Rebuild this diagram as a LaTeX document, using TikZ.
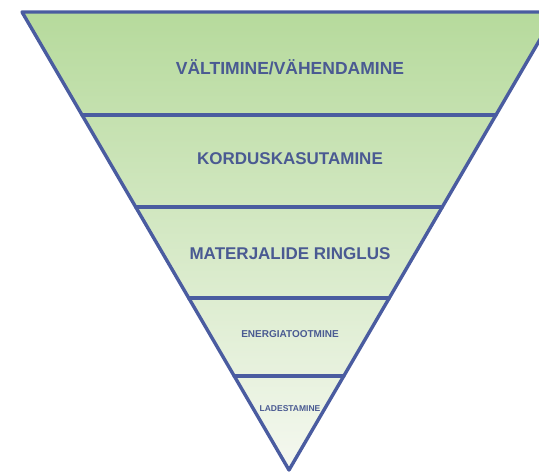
\documentclass[tikz,border=0pt]{standalone}
\usepackage{fontspec}
\setmainfont{Liberation Sans}
\definecolor{edge}{HTML}{4A5CA0}
\definecolor{txt}{HTML}{4A5A92}
\definecolor{gtop}{HTML}{B6DA9C}
\definecolor{gbot}{HTML}{F5F8F0}
\begin{document}
\begin{tikzpicture}[x=1pt,y=-1pt,
  band/.style={draw=edge,line width=3.4pt,line cap=round,line join=round},
  lbl/.style={text=txt,font=\bfseries,inner sep=0pt,anchor=center}]
\useasboundingbox (0,0) rectangle (539,473);
\clip (0,0) rectangle (539,473);
\coordinate (TL) at (22,12);
\coordinate (TR) at (556,12);
\coordinate (AP) at (289,470);
\shade[top color=gtop,bottom color=gbot] (TL) -- (TR) -- (AP) -- cycle;
% band lines
\foreach \y/\n in {115/a,207/b,298/c,376/d}{
  \pgfmathsetmacro{\dx}{0.58297*(\y-12)}
  \coordinate (L\n) at ({22+\dx},\y);
  \coordinate (R\n) at ({556-\dx},\y);
}
\draw[band] (La) -- (Ra);
\draw[band] (Lb) -- (Rb);
\draw[band] (Lc) -- (Rc);
\draw[band] (Ld) -- (Rd);
\draw[band] (TL) -- (TR) -- (AP) -- cycle;
\node[lbl,font=\bfseries\fontsize{17.5}{20}\selectfont] (t1) at (290,67) {VÄLTIMINE/VÄHENDAMINE};
\node[lbl,font=\bfseries\fontsize{17}{20}\selectfont] (t2) at (290,159) {KORDUSKASUTAMINE};
\node[lbl,font=\bfseries\fontsize{17}{20}\selectfont] (t3) at (290,254) {MATERJALIDE RINGLUS};
\node[lbl,font=\bfseries\fontsize{10}{12}\selectfont] (t4) at (290,334) {ENERGIATOOTMINE};
\node[lbl,font=\bfseries\fontsize{8.5}{10}\selectfont] (t5) at (290,409) {LADESTAMINE};
\end{tikzpicture}
\end{document}
